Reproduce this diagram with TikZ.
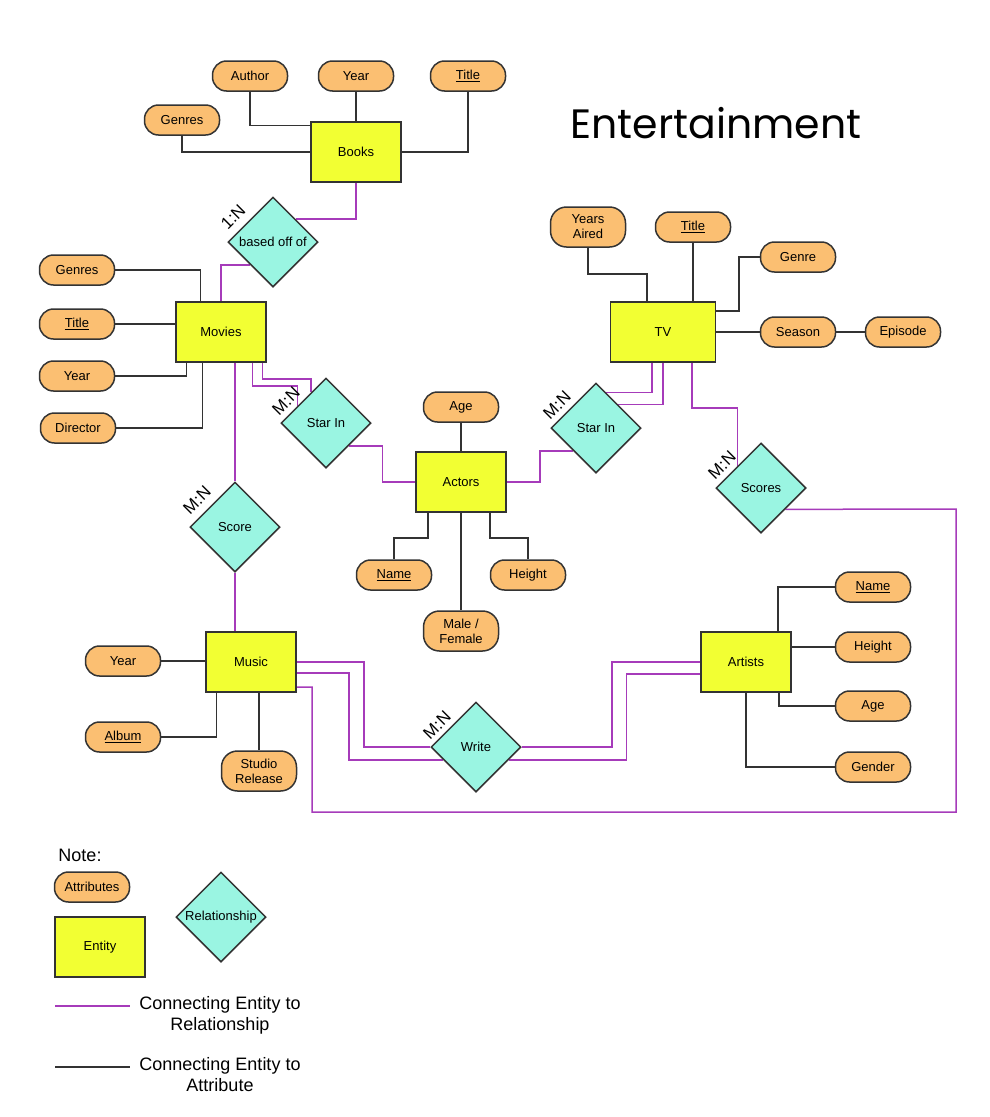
\documentclass[tikz,border=0pt]{standalone}
\usepackage{fontspec}
\setmainfont{Liberation Sans}
\newfontfamily\titlefont{Poppins}
\usetikzlibrary{shapes.geometric,backgrounds,calc}
\definecolor{attrfill}{HTML}{FBBF72}
\definecolor{entfill}{HTML}{F2FF33}
\definecolor{relfill}{HTML}{9AF5E2}
\definecolor{linec}{HTML}{333333}
\definecolor{relc}{HTML}{A63BBA}
\begin{document}
\begin{tikzpicture}[x=1pt,y=-1pt,
  attr/.style={draw=linec, line width=1.5pt, fill=attrfill, rounded corners=14pt,
    minimum width=75pt, minimum height=30pt, inner sep=1pt, align=center,
    font=\fontsize{13}{15}\selectfont},
  attrtall/.style={attr, minimum height=40pt, rounded corners=16pt},
  ent/.style={draw=linec, line width=1.5pt, fill=entfill, minimum width=90pt,
    minimum height=60pt, font=\fontsize{13}{15}\selectfont},
  relsh/.style={diamond, draw=linec, line width=1.5pt, fill=relfill, minimum width=90pt,
    minimum height=90pt, inner sep=0pt, font=\fontsize{13}{15}\selectfont},
  card/.style={rotate=45, inner sep=0pt, font=\fontsize{17}{19}\selectfont},
  attline/.style={draw=linec, line width=1.5pt},
  relline/.style={draw=relc, line width=1.5pt},
  legtext/.style={align=center, font=\fontsize{18}{21}\selectfont}
]
\useasboundingbox (0,0) rectangle (990,1117);

% Title
\node[font=\titlefont\fontsize{41}{48}\selectfont] (title) at (716,123) {Entertainment};

% Entities
\node[ent] (books) at (356,152) {Books};
\node[ent] (movies) at (221,332) {Movies};
\node[ent] (actors) at (461,482) {Actors};
\node[ent, minimum width=105pt] (tv) at (663,332) {TV};
\node[ent] (music) at (251,662) {Music};
\node[ent] (artists) at (746,662) {Artists};

% Relationships
\node[relsh] (based) at (273,242) {based off of};
\node[relsh] (starL) at (326,423) {Star In};
\node[relsh] (starR) at (596,428) {Star In};
\node[relsh] (scores) at (761,488) {Scores};
\node[relsh] (score) at (235,527) {Score};
\node[relsh] (write) at (476,747) {Write};

% Cardinalities
\node[card] (c1) at (233,217) {1:N};
\node[card] (c2) at (286,401) {M:N};
\node[card] (c3) at (557,405) {M:N};
\node[card] (c4) at (722,465) {M:N};
\node[card] (c5) at (197,500) {M:N};
\node[card] (c6) at (437,725) {M:N};

% Attributes
\node[attr] (authB) at (250,76) {Author};
\node[attr] (yearB) at (356,76) {Year};
\node[attr] (titleB) at (468,76) {\underline{Title}};
\node[attr] (genB) at (182,120) {Genres};
\node[attr] (genM) at (77,270) {Genres};
\node[attr] (titleM) at (77,324) {\underline{Title}};
\node[attr] (yearM) at (77,376) {Year};
\node[attr] (dirM) at (78,428) {Director};
\node[attr] (ageA) at (461,407) {Age};
\node[attr] (nameA) at (394,575) {\underline{Name}};
\node[attr] (heightA) at (528,575) {Height};
\node[attrtall] (sexA) at (461,631) {Male /\\Female};
\node[attrtall] (yearsTV) at (588,227) {Years\\Aired};
\node[attr] (titleTV) at (693,227) {\underline{Title}};
\node[attr] (genreTV) at (798,257) {Genre};
\node[attr] (seasonTV) at (798,332) {Season};
\node[attr] (epTV) at (903,332) {Episode};
\node[attr] (yearMu) at (123,661) {Year};
\node[attr] (albumMu) at (123,737) {\underline{Album}};
\node[attrtall] (studioMu) at (259,771) {Studio\\Release};
\node[attr] (nameAr) at (873,587) {\underline{Name}};
\node[attr] (heightAr) at (873,647) {Height};
\node[attr] (ageAr) at (873,706) {Age};
\node[attr] (genderAr) at (873,767) {Gender};

% Edge points on diamonds
\coordinate (sl1) at ($(starL.west)!0.378!(starL.north)$);
\coordinate (sl2) at ($(starL.west)!0.667!(starL.north)$);
\coordinate (sr1) at ($(starR.north)!0.222!(starR.east)$);
\coordinate (sr2) at ($(starR.north)!0.489!(starR.east)$);
\coordinate (sc1) at ($(scores.west)!0.489!(scores.north)$);
\coordinate (sc2) at ($(scores.east)!0.467!(scores.south)$);
\coordinate (w1) at ($(write.west)!0.289!(write.south)$);
\coordinate (w2) at ($(write.east)!0.289!(write.south)$);

% Legend
\node[font=\fontsize{18}{21}\selectfont] (note) at (80,855) {Note:};
\node[attr] (legAttr) at (92,887) {Attributes};
\node[ent] (legEnt) at (100,947) {Entity};
\node[relsh] (legRel) at (221,917) {Relationship};
\coordinate (lg1a) at (55,1006);
\coordinate (lg1b) at (130,1006);
\coordinate (lg2a) at (55,1067);
\coordinate (lg2b) at (130,1067);
\node[legtext] (legt1) at (220,1015) {Connecting Entity to\\Relationship};
\node[legtext] (legt2) at (220,1075) {Connecting Entity to\\Attribute};

\begin{pgfonlayer}{background}
% attribute connectors
\draw[attline] (authB.south) |- ([yshift=-4pt]books.north west);
\draw[attline] (yearB.south) -- (books.north);
\draw[attline] (titleB.south) |- (books.east);
\draw[attline] (genB.south) |- (books.west);
\draw[attline] (genM.east) -| ([xshift=25pt]movies.north west);
\draw[attline] (titleM.east) -- (titleM.east -| movies.west);
\draw[attline] (yearM.east) -| ([xshift=11pt]movies.south west);
\draw[attline] (dirM.east) -| ([xshift=27pt]movies.south west);
\draw[attline] (ageA.south) -- (actors.north);
\draw[attline] ([xshift=-33pt]actors.south) -- (428,538) -| (nameA.north);
\draw[attline] ([xshift=29pt]actors.south) -- (490,538) -| (heightA.north);
\draw[attline] (actors.south) -- (sexA.north);
\draw[attline] (yearsTV.south) -- (588,274) -| ([xshift=-16pt]tv.north);
\draw[attline] (titleTV.south) -- (titleTV.south |- tv.north);
\draw[attline] (genreTV.west) -- (739,257) |- ([yshift=21pt]tv.east);
\draw[attline] (tv.east) -- (seasonTV.west);
\draw[attline] (seasonTV.east) -- (epTV.west);
\draw[attline] (yearMu.east) -- (yearMu.east -| music.west);
\draw[attline] (albumMu.east) -| ([xshift=11pt]music.south west);
\draw[attline] (studioMu.north) -- (studioMu.north |- music.south);
\draw[attline] (nameAr.west) -| ([xshift=-14pt]artists.north east);
\draw[attline] (heightAr.west) -- (heightAr.west -| artists.east);
\draw[attline] (ageAr.west) -| ([xshift=-13pt]artists.south east);
\draw[attline] (genderAr.west) -| (artists.south);
% relationship connectors
\draw[relline] (books.south) |- (based.north east);
\draw[relline] (based.south west) -| (movies.north);
\draw[relline] ([xshift=77pt]movies.south west) -- ++(0,23) -| (sl1);
\draw[relline] ([xshift=87pt]movies.south west) -- ++(0,16) -| (sl2);
\draw[relline] (starL.south east) -- ++(33.5,0) |- (actors.west);
\draw[relline] (actors.east) -- ++(33,0) |- (starR.south west);
\draw[relline] ([xshift=-11pt]tv.south) |- (sr1);
\draw[relline] (tv.south) |- (sr2);
\draw[relline] ([xshift=29pt]tv.south) -- ++(0,45) -| (sc1);
\draw[relline] (sc2) -- (956,509) |- (312,812) |- ([yshift=-25pt]music.east);
\draw[relline] (score.north |- movies.south) -- (score.north);
\draw[relline] (score.south) -- (score.south |- music.north);
\draw[relline] (music.east) -- ++(67,0) |- (write.west);
\draw[relline] ([yshift=-11pt]music.east) -- ++(52,0) |- (w1);
\draw[relline] (write.east) -- ++(90,0) |- (artists.west);
\draw[relline] (w2) -- ++(118,0) |- ([yshift=-12pt]artists.west);
% legend lines
\draw[relline] (lg1a) -- (lg1b);
\draw[attline] (lg2a) -- (lg2b);
\end{pgfonlayer}
\end{tikzpicture}
\end{document}
